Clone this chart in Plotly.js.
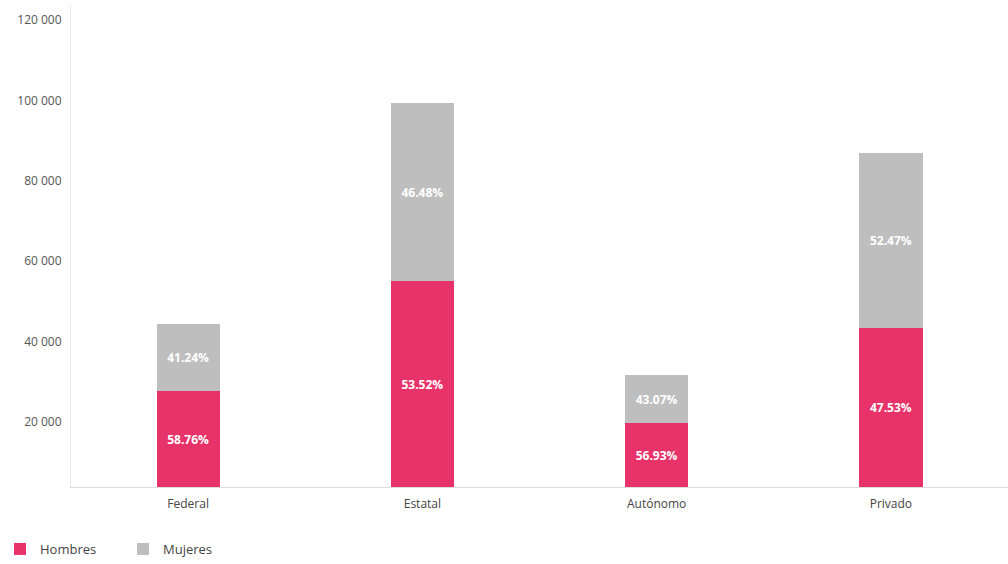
<!DOCTYPE html>
<html>
<head>
<meta charset="utf-8">
<script src="https://cdn.plot.ly/plotly-3.0.1.min.js"></script>
<style>html,body{margin:0;padding:0;background:#fff;}#chart{width:1008px;height:564px;}</style>
</head>
<body>
<div id="chart"></div>
<script>
const categories = ["Federal", "Estatal", "Autónomo", "Privado"];
const hombres = [23860, 51190, 15880, 39540];
const mujeres = [16740, 44450, 12020, 43650];
const hombresPct = ["58.76%", "53.52%", "56.93%", "47.53%"];
const mujeresPct = ["41.24%", "46.48%", "43.07%", "52.47%"];
const yTicks = [20000, 40000, 60000, 80000, 100000, 120000];

const textFont = {family: "Open Sans, sans-serif", size: 12, color: "#ffffff", weight: "bold"};

const traces = [
  {
    type: "bar", name: "Hombres", x: categories, y: hombres,
    text: hombresPct, textposition: "inside", insidetextanchor: "middle",
    textfont: textFont, marker: {color: "#E8336A"}, hoverinfo: "x+y+name"
  },
  {
    type: "bar", name: "Mujeres", x: categories, y: mujeres,
    text: mujeresPct, textposition: "inside", insidetextanchor: "middle",
    textfont: textFont, marker: {color: "#BEBEBE"}, hoverinfo: "x+y+name"
  }
];

const layout = {
  width: 1008, height: 564,
  barmode: "stack",
  bargap: 0.73,
  separators: ". ",
  paper_bgcolor: "#ffffff", plot_bgcolor: "#ffffff",
  margin: {l: 71, r: 0, t: 5, b: 77},
  font: {family: "Open Sans, sans-serif", size: 12, color: "#555555"},
  xaxis: {
    showgrid: false, showline: true, linecolor: "#dddddd", linewidth: 1,
    ticks: "", tickfont: {size: 12, color: "#444444"}, ticklabelstandoff: 6
  },
  yaxis: {
    range: [0, 120000], tickvals: yTicks, tickformat: ",d",
    showgrid: false, zeroline: false, showline: true, linecolor: "#e6e6e6", linewidth: 1,
    ticks: "", ticklabelshift: 15, ticklabelstandoff: 6,
    tickfont: {size: 12, color: "#555555"}
  },
  showlegend: true,
  legend: {
    orientation: "h", xref: "container", yref: "container",
    x: -0.004, y: -0.018, xanchor: "left", yanchor: "bottom",
    font: {size: 13, color: "#444444"}, itemwidth: 30, traceorder: "normal",
    entrywidth: 78, entrywidthmode: "pixels"
  }
};

Plotly.newPlot("chart", traces, layout, {displayModeBar: false, staticPlot: true});
</script>
</body>
</html>
